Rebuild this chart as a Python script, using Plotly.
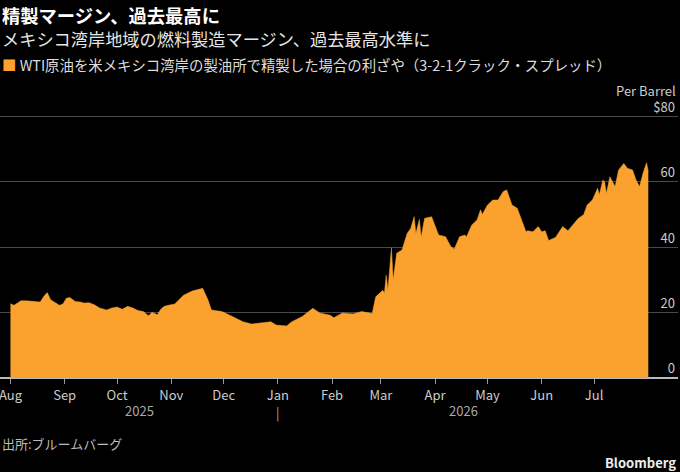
import plotly.graph_objects as go

# 3-2-1 crack spread, USD per barrel
dates = [
    "2025-08-01", "2025-08-03", "2025-08-05", "2025-08-07", "2025-08-10", "2025-08-14",
    "2025-08-18", "2025-08-20", "2025-08-22", "2025-08-24", "2025-08-27", "2025-08-29",
    "2025-08-31", "2025-09-02", "2025-09-04", "2025-09-07", "2025-09-10", "2025-09-12",
    "2025-09-15", "2025-09-18", "2025-09-21", "2025-09-25", "2025-09-28", "2025-10-01",
    "2025-10-04", "2025-10-07", "2025-10-10", "2025-10-13", "2025-10-16", "2025-10-19",
    "2025-10-21", "2025-10-24", "2025-10-26", "2025-10-28", "2025-10-31", "2025-11-03",
    "2025-11-08", "2025-11-13", "2025-11-19", "2025-11-22", "2025-11-24", "2025-11-30",
    "2025-12-06", "2025-12-12", "2025-12-17", "2025-12-23", "2025-12-28", "2025-12-31",
    "2026-01-06", "2026-01-09", "2026-01-15", "2026-01-21", "2026-01-25", "2026-01-31",
    "2026-02-02", "2026-02-07", "2026-02-13", "2026-02-18", "2026-02-24", "2026-02-26",
    "2026-03-02", "2026-03-03", "2026-03-04", "2026-03-05", "2026-03-07", "2026-03-08",
    "2026-03-10", "2026-03-13", "2026-03-16", "2026-03-18", "2026-03-20", "2026-03-21",
    "2026-03-23", "2026-03-24", "2026-03-26", "2026-03-30", "2026-04-03", "2026-04-07",
    "2026-04-10", "2026-04-12", "2026-04-15", "2026-04-18", "2026-04-19", "2026-04-22",
    "2026-04-25", "2026-04-27", "2026-04-28", "2026-05-01", "2026-05-04", "2026-05-07",
    "2026-05-10", "2026-05-12", "2026-05-15", "2026-05-18", "2026-05-21", "2026-05-23",
    "2026-05-24", "2026-05-27", "2026-05-30", "2026-06-01", "2026-06-03", "2026-06-05",
    "2026-06-09", "2026-06-13", "2026-06-16", "2026-06-19", "2026-06-22", "2026-06-25",
    "2026-06-27", "2026-06-30", "2026-07-03", "2026-07-04", "2026-07-06", "2026-07-07",
    "2026-07-08", "2026-07-10", "2026-07-13", "2026-07-15", "2026-07-18", "2026-07-20",
    "2026-07-23", "2026-07-25", "2026-07-27", "2026-07-29", "2026-07-31", "2026-08-01",
]
spread = [
    22.7, 22.2, 22.9, 23.6, 23.6, 23.4,
    23.2, 24.9, 26.1, 23.9, 22.9, 22.2,
    22.6, 24.4, 24.6, 23.4, 23.2, 22.9,
    23.0, 22.4, 21.4, 20.8, 21.4, 21.7,
    21.0, 21.9, 21.4, 20.6, 20.3, 19.0,
    20.1, 19.3, 21.0, 21.9, 22.3, 22.6,
    25.3, 26.6, 27.4, 23.9, 20.8, 20.3,
    18.8, 17.2, 16.5, 16.8, 17.2, 16.2,
    15.9, 17.2, 18.8, 21.3, 19.9, 19.2,
    18.4, 19.9, 19.6, 20.3, 19.7, 24.8,
    26.8, 26.0, 31.4, 27.0, 39.8, 30.0,
    38.1, 39.1, 44.2, 45.7, 49.3, 44.2,
    48.5, 43.0, 48.8, 49.3, 43.7, 43.2,
    40.2, 39.4, 43.2, 43.7, 43.2, 46.8,
    48.3, 51.4, 50.0, 52.9, 54.4, 54.4,
    57.0, 57.5, 52.9, 51.9, 47.8, 44.7,
    45.0, 44.7, 46.3, 44.7, 45.0, 42.0,
    43.0, 46.3, 45.0, 46.8, 48.8, 49.9,
    52.9, 54.4, 58.0, 56.0, 60.5, 60.0,
    56.4, 61.5, 58.5, 63.6, 65.6, 64.1,
    63.6, 60.5, 58.5, 62.6, 65.8, 63.1,
]

month_ticks = ["2025-08-01", "2025-09-01", "2025-10-01", "2025-11-01", "2025-12-01",
               "2026-01-01", "2026-02-01", "2026-03-01", "2026-04-01", "2026-05-01",
               "2026-06-01", "2026-07-01"]
month_labels = ["Aug", "Sep", "Oct", "Nov", "Dec", "Jan", "Feb", "Mar", "Apr", "May", "Jun", "Jul"]
y_ticks = [0, 20, 40, 60, 80]
y_labels = ["0", "20", "40", "60", "$80"]

orange = "#FBA12E"
font = "Noto Sans CJK JP"
TOP, BOTTOM = 113, 378          # plot area edges in px
H = BOTTOM - TOP


def py(pixel_y):
    # paper y for a given pixel row
    return (BOTTOM - pixel_y) / H


fig = go.Figure()
fig.add_trace(go.Scatter(
    x=dates, y=spread, mode="lines", fill="tozeroy",
    line=dict(color=orange, width=0.5), fillcolor=orange,
    showlegend=False, hoverinfo="skip",
))

fig.update_layout(
    width=680, height=472,
    paper_bgcolor="black", plot_bgcolor="black",
    margin=dict(l=0, r=2, t=TOP, b=472 - BOTTOM),
    font=dict(family=font, color="#cccccc", size=13),
    showlegend=False,
)
fig.update_xaxes(
    type="date", range=["2025-07-26", "2026-08-18"],
    tickvals=month_ticks, ticktext=month_labels,
    ticks="outside", ticklen=5, tickcolor="#999999",
    ticklabeloverflow="allow",
    tickfont=dict(size=13, color="#cccccc"),
    showgrid=False, zeroline=False, showline=False,
)
fig.update_yaxes(
    range=[0, 81], side="right",
    tickvals=y_ticks, ticktext=y_labels,
    ticklabelposition="inside top", ticklabeloverflow="allow",
    tickfont=dict(size=13, color="#cccccc"),
    showgrid=True, gridcolor="#4a4a4a", gridwidth=1,
    zeroline=True, zerolinecolor="#bbbbbb", zerolinewidth=1.5,
    showline=False, ticks="",
)

# titles
fig.add_annotation(text="<b>精製マージン、過去最高に</b>", xref="paper", yref="paper",
                   x=0, y=py(0), xanchor="left", yanchor="top", showarrow=False,
                   font=dict(size=18.3, color="white", family=font))
fig.add_annotation(text="メキシコ湾岸地域の燃料製造マージン、過去最高水準に", xref="paper", yref="paper",
                   x=0, y=py(24), xanchor="left", yanchor="top", showarrow=False,
                   font=dict(size=17.2, color="#e6e6e6", family=font))
fig.add_annotation(
    text=f"<span style='color:{orange}'>■</span> WTI原油を米メキシコ湾岸の製油所で精製した場合の利ざや（3-2-1クラック・スプレッド）",
    xref="paper", yref="paper", x=0, y=py(64), xanchor="left", yanchor="middle",
    showarrow=False, font=dict(size=14.4, color="#dddddd", family=font))
fig.add_annotation(text="Per Barrel", xref="paper", yref="paper", x=1, y=py(90),
                   xanchor="right", yanchor="middle", showarrow=False,
                   font=dict(size=13, color="#cccccc", family=font))

# year labels under the month ticks
fig.add_annotation(text="2025", xref="x", yref="paper", x="2025-10-14", y=py(410),
                   xanchor="center", yanchor="middle", showarrow=False,
                   font=dict(size=13, color="#aaaaaa", family=font))
fig.add_annotation(text="2026", xref="x", yref="paper", x="2026-04-17", y=py(410),
                   xanchor="center", yanchor="middle", showarrow=False,
                   font=dict(size=13, color="#aaaaaa", family=font))
fig.add_annotation(text="|", xref="x", yref="paper", x="2026-01-01", y=py(412),
                   xanchor="center", yanchor="middle", showarrow=False,
                   font=dict(size=13, color="#aaaaaa", family=font))

# footer
fig.add_annotation(text="出所:ブルームバーグ", xref="paper", yref="paper", x=0, y=py(443),
                   xanchor="left", yanchor="middle", showarrow=False,
                   font=dict(size=13, color="#bbbbbb", family=font))
fig.add_annotation(text="<b>Bloomberg</b>", xref="paper", yref="paper", x=1, y=py(462),
                   xanchor="right", yanchor="middle", showarrow=False,
                   font=dict(size=13, color="#eeeeee", family=font))

fig.write_html("out.html", post_script="document.body.style.margin='0';",
               config={"displayModeBar": False})
